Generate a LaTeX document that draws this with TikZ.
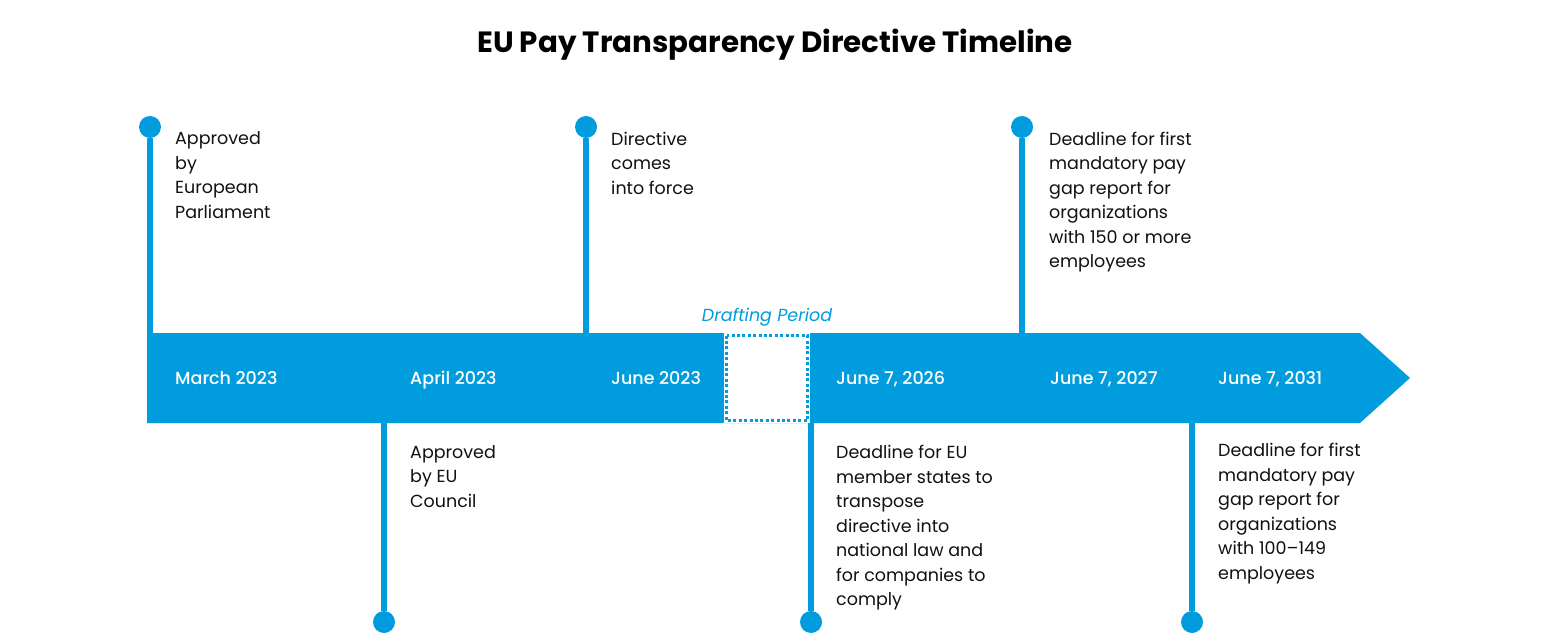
\documentclass[tikz,border=0pt]{standalone}
\usepackage{fontspec}
\setmainfont{Poppins}
\newfontfamily\medfont{Poppins Medium}
\definecolor{tlblue}{RGB}{0,156,222}
\definecolor{txt}{RGB}{17,17,17}
\begin{document}
\begin{tikzpicture}[x=1pt,y=-1pt,
  dot/.style={circle,fill=tlblue,minimum size=22pt,inner sep=0pt},
  stem/.style={draw=tlblue,line width=6pt},
  barlabel/.style={anchor=base west,text=white,font=\medfont\fontsize{17.5}{20}\selectfont,inner sep=0pt},
  desc/.style={anchor=north west,align=left,text=txt,font=\fontsize{17.5}{24.5}\selectfont,inner sep=0pt}]
\useasboundingbox[fill=white] (0,0) rectangle (1550,644);
% title
\node[font=\bfseries\fontsize{29.3}{34}\selectfont,text=black] (title) at (775,45) {EU Pay Transparency Directive Timeline};
% bar
\fill[tlblue] (147,333) -- (1360,333) -- (1410,378) -- (1360,423) -- (147,423) -- cycle;
\coordinate (bartop) at (0,333);
\coordinate (barbot) at (0,423);
% drafting box
\fill[white] (724,333) rectangle (810,423);
\draw[tlblue,line width=3pt,dash pattern=on 3pt off 2.4pt] (726.5,335.5) rectangle (807.5,420.5);
\node[font=\itshape\fontsize{17.5}{20}\selectfont,text=tlblue] (draft) at (767,317.5) {Drafting Period};
% dots
\node[dot] (d1) at (150,127) {};
\node[dot] (d2) at (384,622) {};
\node[dot] (d3) at (586,127) {};
\node[dot] (d4) at (811,622) {};
\node[dot] (d5) at (1022,127) {};
\node[dot] (d6) at (1192,622) {};
% stems
\draw[stem] (d1) -- (d1 |- bartop);
\draw[stem] (d2) -- (d2 |- barbot);
\draw[stem] (d3) -- (d3 |- bartop);
\draw[stem] (d4) -- (d4 |- barbot);
\draw[stem] (d5) -- (d5 |- bartop);
\draw[stem] (d6) -- (d6 |- barbot);
% bar labels
\node[barlabel] (l1) at (175,384.5) {March 2023};
\node[barlabel] (l2) at (410,384.5) {April 2023};
\node[barlabel] (l3) at (611,384.5) {June 2023};
\node[barlabel] (l4) at (836,384.5) {June 7, 2026};
\node[barlabel] (l5) at (1050,384.5) {June 7, 2027};
\node[barlabel] (l6) at (1218,384.5) {June 7, 2031};
% descriptions
\node[desc] (t1) at (175,131.5) {Approved\\by\\European\\Parliament};
\node[desc] (t3) at (611,131.5) {Directive\\comes\\into force};
\node[desc] (t5) at (1049,131.5) {Deadline for first\\mandatory pay\\gap report for\\organizations\\with 150 or more\\employees};
\node[desc] (t2) at (410,445) {Approved\\by EU\\Council};
\node[desc] (t4) at (836,445) {Deadline for EU\\member states to\\transpose\\directive into\\national law and\\for companies to\\comply};
\node[desc] (t6) at (1218,443) {Deadline for first\\mandatory pay\\gap report for\\organizations\\with 100–149\\employees};
\end{tikzpicture}
\end{document}
